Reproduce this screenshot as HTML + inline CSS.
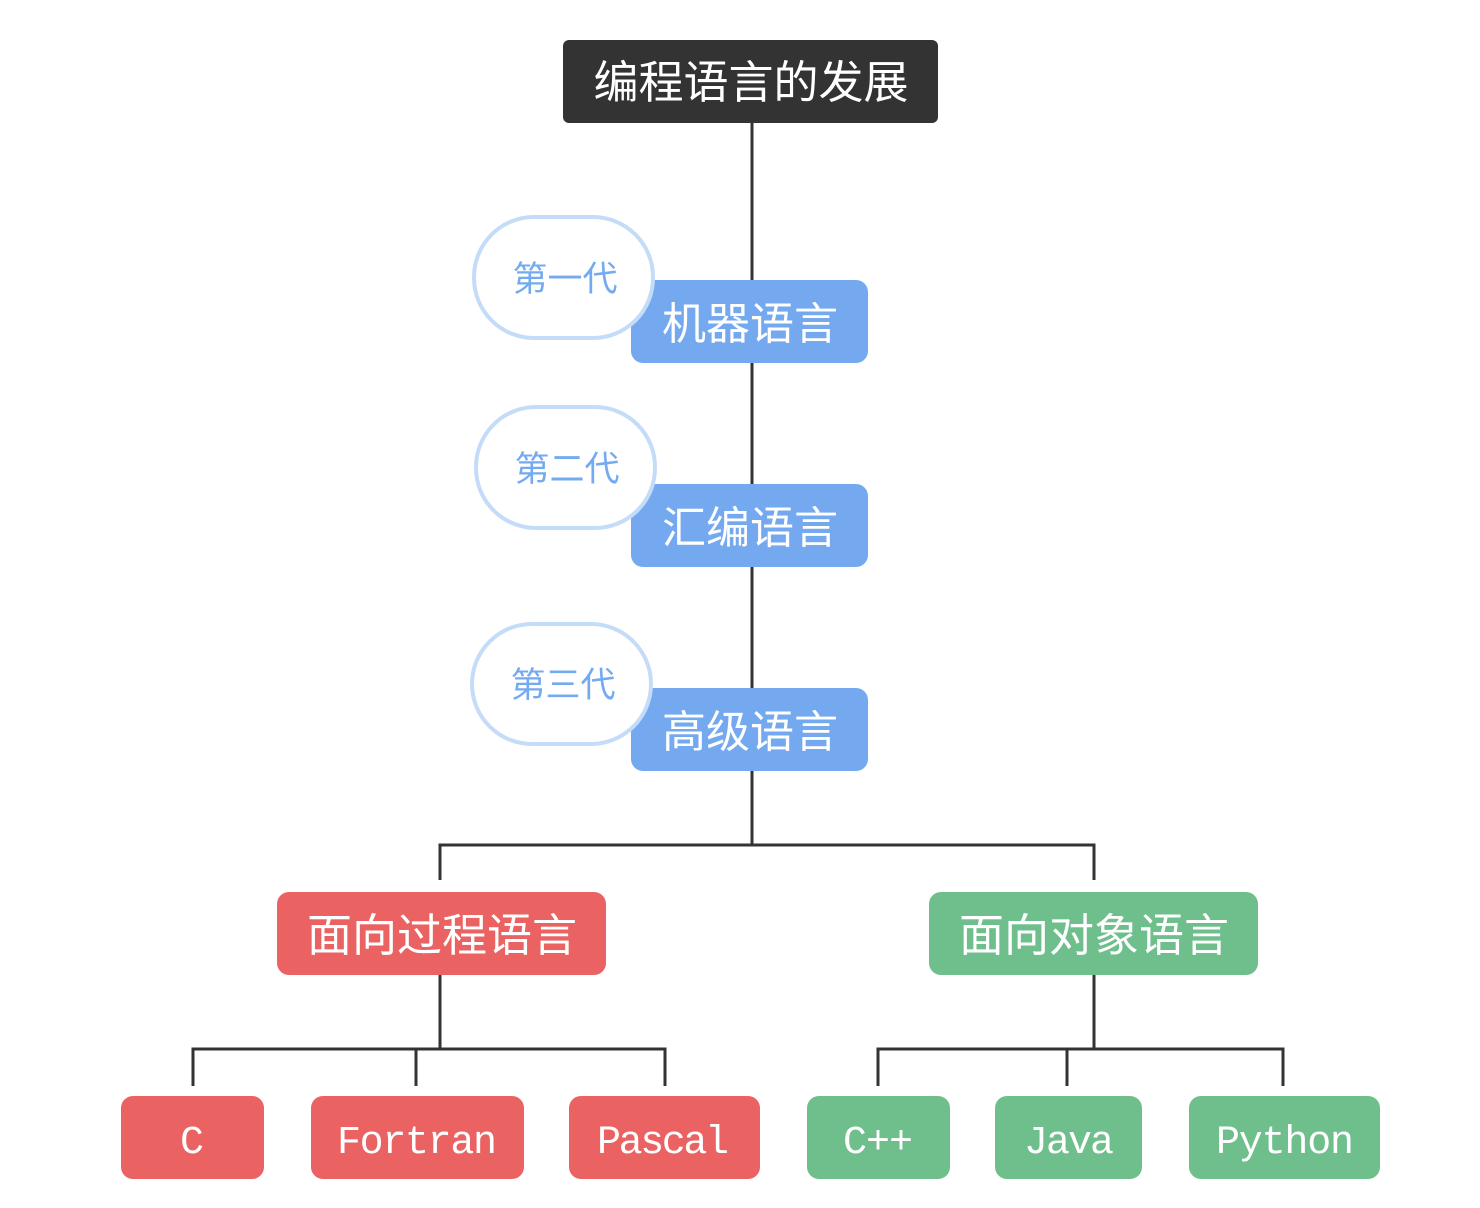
<!DOCTYPE html>
<html><head><meta charset="utf-8"><style>
html,body{margin:0;padding:0;background:#fff;}
svg{display:block}
.cn{font-family:"Liberation Sans","Noto Sans CJK SC",sans-serif;}
.mono{font-family:"Liberation Mono","Noto Sans CJK SC",monospace;}
</style></head><body>
<svg width="1480" height="1208" viewBox="0 0 1480 1208" xmlns="http://www.w3.org/2000/svg">
<g stroke="#333" stroke-width="3" fill="none">
<line x1="752" y1="123" x2="752" y2="845"/>
<polyline points="440,880 440,845 1094,845 1094,880"/>
<line x1="440" y1="975" x2="440" y2="1049"/>
<polyline points="193,1086 193,1049 665,1049 665,1086"/>
<line x1="416" y1="1049" x2="416" y2="1086"/>
<line x1="1094" y1="975" x2="1094" y2="1049"/>
<polyline points="878,1086 878,1049 1283,1049 1283,1086"/>
<line x1="1067" y1="1049" x2="1067" y2="1086"/>
</g>
<rect x="563" y="40" width="375" height="83" rx="6" fill="#333"/>
<text x="751" y="98" text-anchor="middle" class="cn" font-size="45" fill="#fff">编程语言的发展</text>

<g fill="#74a9f0">
<rect x="631" y="280" width="237" height="83" rx="12"/>
<rect x="631" y="484" width="237" height="83" rx="12"/>
<rect x="631" y="688" width="237" height="83" rx="12"/>
</g>
<g class="cn" font-size="44" fill="#fff" text-anchor="middle">
<text x="750" y="339">机器语言</text>
<text x="750" y="543">汇编语言</text>
<text x="750" y="747">高级语言</text>
</g>
<g fill="#fff" stroke="#c5dcf8" stroke-width="4">
<rect x="474" y="217" width="179" height="121" rx="60"/>
<rect x="476" y="407" width="179" height="121" rx="60"/>
<rect x="472" y="624" width="179" height="120" rx="60"/>
</g>
<g class="cn" font-size="35" fill="#74aaf0" text-anchor="middle">
<text x="565" y="291">第一代</text>
<text x="567" y="481">第二代</text>
<text x="563" y="697">第三代</text>
</g>

<rect x="277" y="892" width="329" height="83" rx="12" fill="#eb6262"/>
<rect x="929" y="892" width="329" height="83" rx="12" fill="#6fbf8c"/>
<g class="cn" font-size="45" fill="#fff" text-anchor="middle">
<text x="442" y="951">面向过程语言</text>
<text x="1094" y="951">面向对象语言</text>
</g>

<g fill="#eb6262">
<rect x="121" y="1096" width="143" height="83" rx="12"/>
<rect x="311" y="1096" width="213" height="83" rx="12"/>
<rect x="569" y="1096" width="191" height="83" rx="12"/>
</g>
<g fill="#6fbf8c">
<rect x="807" y="1096" width="143" height="83" rx="12"/>
<rect x="995" y="1096" width="147" height="83" rx="12"/>
<rect x="1189" y="1096" width="191" height="83" rx="12"/>
</g>
<g class="mono" font-size="40" fill="#fff" text-anchor="middle">
<text x="192" y="1153">C</text>
<text x="417" y="1153" textLength="160">Fortran</text>
<text x="663" y="1153" textLength="132">Pascal</text>
<text x="878" y="1153" textLength="70">C++</text>
<text x="1069" y="1153" textLength="90">Java</text>
<text x="1285" y="1153" textLength="138">Python</text>
</g>
</svg>
</body></html>
